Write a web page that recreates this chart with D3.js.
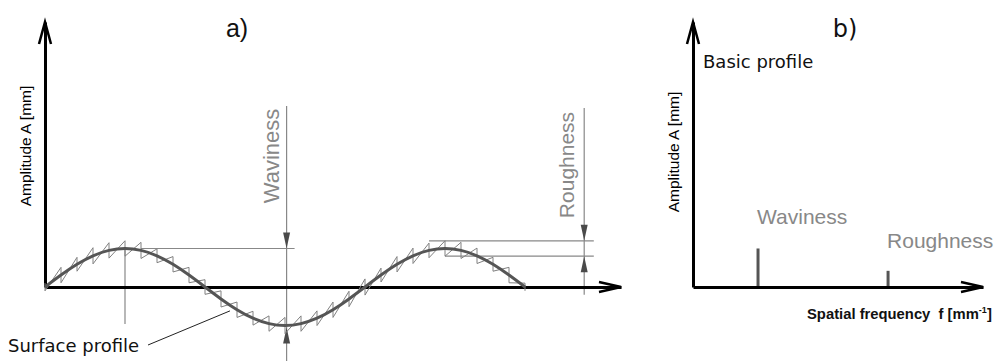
<!DOCTYPE html>
<html>
<head>
<meta charset="utf-8">
<script src="https://cdn.jsdelivr.net/npm/d3@7"></script>
<style>
  body { margin: 0; background: #fff; }
  svg { display: block; }
</style>
</head>
<body>
<div id="wrapper"></div>
<script>
// a) surface profile, sampled every 0.05 along the profile (one wave = 1.0)
const profileX = [0, 0.05, 0.1, 0.15, 0.2, 0.25, 0.3, 0.35, 0.4, 0.45, 0.5,
  0.55, 0.6, 0.65, 0.7, 0.75, 0.8, 0.85, 0.9, 0.95, 1.0,
  1.05, 1.1, 1.15, 1.2, 1.25, 1.3, 1.35, 1.4, 1.45, 1.5]
const waviness = [0, 0.31, 0.59, 0.81, 0.95, 1, 0.95, 0.81, 0.59, 0.31, 0,
  -0.31, -0.59, -0.81, -0.95, -1, -0.95, -0.81, -0.59, -0.31, 0,
  0.31, 0.59, 0.81, 0.95, 1, 0.95, 0.81, 0.59, 0.31, 0]
const roughness = [0.1, 0.2, 0.18, 0.21, 0.2, 0.2, 0.21, 0.18, 0.2, 0.2, 0.19,
  0.21, 0.2, 0.18, 0.2, 0.21, 0.2, 0.19, 0.2, 0.2, 0.21,
  0.18, 0.2, 0.2, 0.19, 0.2, 0.21, 0.2, 0.18, 0.2, 0.1]

// b) spectrum
const spectrumLabels = ["Waviness", "Roughness"]
const spectrumFreq = [1, 3]
const spectrumAmp = [1, 0.42]

const width = 995
const height = 361

const svg = d3.select("#wrapper")
  .append("svg")
  .attr("width", width)
  .attr("height", height)
  .style("font-family", "'Liberation Sans', Arial, sans-serif")

svg.append("rect").attr("width", width).attr("height", height).attr("fill", "#fff")

// scales
const xA = d3.scaleLinear().domain([0, 1.8]).range([45, 621])
const yA = d3.scaleLinear().domain([0, 6.88]).range([287, 22])
const xB = d3.scaleLinear().domain([0, 4.46]).range([693, 983])

const grey = "#888"
const dark = "#4a4a4a"

// ---------- panel a ----------
const panelA = svg.append("g")

// annotation lines (behind the profile)
const wavX = 0.755
const rouX = 1.685

panelA.append("line") // drop from the crest
  .attr("x1", xA(0.25)).attr("x2", xA(0.25))
  .attr("y1", yA(1)).attr("y2", yA(-0.96))
  .attr("stroke", grey).attr("stroke-width", 1.2)
panelA.append("line")
  .attr("x1", xA(0.3)).attr("x2", xA(0.78))
  .attr("y1", yA(1)).attr("y2", yA(1))
  .attr("stroke", grey).attr("stroke-width", 1.2)
panelA.append("line")
  .attr("x1", xA(wavX)).attr("x2", xA(wavX))
  .attr("y1", yA(4.7)).attr("y2", height)
  .attr("stroke", grey).attr("stroke-width", 1.2)

panelA.append("line")
  .attr("x1", xA(1.2)).attr("x2", xA(1.715))
  .attr("y1", yA(1.2)).attr("y2", yA(1.2))
  .attr("stroke", grey).attr("stroke-width", 1.2)
panelA.append("line")
  .attr("x1", xA(1.25)).attr("x2", xA(1.715))
  .attr("y1", yA(0.8)).attr("y2", yA(0.8))
  .attr("stroke", grey).attr("stroke-width", 1.2)
panelA.append("line")
  .attr("x1", xA(rouX)).attr("x2", xA(rouX))
  .attr("y1", yA(4.65)).attr("y2", yA(-0.2))
  .attr("stroke", grey).attr("stroke-width", 1.2)

// filled arrowheads
function arrowHead(g, x, y, dir) {
  const len = 16, half = 3.5
  g.append("path")
    .attr("d", `M${x},${y} L${x - half},${y - dir * len} L${x + half},${y - dir * len} Z`)
    .attr("fill", dark)
}
arrowHead(panelA, xA(wavX), yA(1), 1)
arrowHead(panelA, xA(wavX), yA(-1) + 2, -1)
arrowHead(panelA, xA(rouX), yA(1.2), 1)
arrowHead(panelA, xA(rouX), yA(0.8), -1)

// axes
const xAxisA = panelA.append("g")
  .attr("transform", `translate(0,${yA(0)})`)
  .call(d3.axisBottom(xA).tickValues([]).tickSizeOuter(0))
const yAxisA = panelA.append("g")
  .attr("transform", `translate(${xA(0)},0)`)
  .call(d3.axisLeft(yA).tickValues([]).tickSizeOuter(0))

// roughness zig-zag around the waviness
let roughPath = ""
profileX.forEach((x, i) => {
  const px = xA(x)
  roughPath += (i === 0 ? "M" : "L") + px + "," + yA(waviness[i] + roughness[i])
  roughPath += "L" + px + "," + yA(waviness[i] - roughness[i])
})
panelA.append("path")
  .attr("d", roughPath)
  .attr("fill", "none")
  .attr("stroke", "#808080")
  .attr("stroke-width", 1)

const wavLine = d3.line()
  .x((d, i) => xA(profileX[i]))
  .y(d => yA(d))
  .curve(d3.curveNatural)

panelA.append("path")
  .attr("d", wavLine(waviness))
  .attr("fill", "none")
  .attr("stroke", "#555")
  .attr("stroke-width", 3)

// leader to the profile
panelA.append("line")
  .attr("x1", 148).attr("y1", 345)
  .attr("x2", xA(0.578)).attr("y2", yA(-0.62))
  .attr("stroke", "#222").attr("stroke-width", 1)

panelA.append("text")
  .attr("x", 8).attr("y", 352)
  .attr("font-family", "'DejaVu Sans', sans-serif")
  .attr("font-size", 18)
  .attr("fill", "#111")
  .text("Surface profile")

panelA.append("text")
  .attr("transform", `translate(279,156) rotate(-90)`)
  .attr("text-anchor", "middle")
  .attr("font-size", 22)
  .attr("fill", grey)
  .text("Waviness")
panelA.append("text")
  .attr("transform", `translate(574,165) rotate(-90)`)
  .attr("text-anchor", "middle")
  .attr("font-size", 21)
  .attr("fill", grey)
  .text("Roughness")

panelA.append("text")
  .attr("transform", `translate(31,146) rotate(-90)`)
  .attr("text-anchor", "middle")
  .attr("font-size", 15.5)
  .attr("fill", "#000")
  .text("Amplitude A [mm]")

panelA.append("text")
  .attr("x", 237).attr("y", 37)
  .attr("text-anchor", "middle")
  .attr("font-family", "'Liberation Sans Narrow', 'Liberation Sans', sans-serif")
  .attr("font-size", 25)
  .attr("fill", "#111")
  .text("a)")

// ---------- panel b ----------
const panelB = svg.append("g")

panelB.selectAll(".bar")
  .data(spectrumFreq)
  .join("line")
  .attr("class", "bar")
  .attr("x1", d => xB(d)).attr("x2", d => xB(d))
  .attr("y1", yA(0)).attr("y2", (d, i) => yA(spectrumAmp[i]))
  .attr("stroke", "#555")
  .attr("stroke-width", 3)

const xAxisB = panelB.append("g")
  .attr("transform", `translate(0,${yA(0)})`)
  .call(d3.axisBottom(xB).tickValues([]).tickSizeOuter(0))
const yAxisB = panelB.append("g")
  .attr("transform", `translate(${xB(0)},0)`)
  .call(d3.axisLeft(yA).tickValues([]).tickSizeOuter(0))

panelB.selectAll(".lbl")
  .data(spectrumLabels)
  .join("text")
  .attr("class", "lbl")
  .attr("x", (d, i) => xB(spectrumFreq[i]) - 1)
  .attr("y", (d, i) => [224, 248][i])
  .attr("font-size", 21)
  .attr("fill", grey)
  .text(d => d)

panelB.append("text")
  .attr("x", 703).attr("y", 68)
  .attr("font-family", "'DejaVu Sans', sans-serif")
  .attr("font-size", 18)
  .attr("fill", "#111")
  .text("Basic profile")

panelB.append("text")
  .attr("transform", `translate(679,152) rotate(-90)`)
  .attr("text-anchor", "middle")
  .attr("font-size", 15.5)
  .attr("fill", "#000")
  .text("Amplitude A [mm]")

const fLabel = panelB.append("text")
  .attr("x", 807).attr("y", 319)
  .attr("font-size", 14.8)
  .attr("font-weight", "bold")
  .attr("fill", "#111")
  .style("white-space", "pre")
fLabel.append("tspan").text("Spatial frequency  f [mm")
fLabel.append("tspan").attr("dy", -6).attr("font-size", 9).text("-1")
fLabel.append("tspan").attr("dy", 6).text("]")

panelB.append("text")
  .attr("x", 845).attr("y", 37)
  .attr("text-anchor", "middle")
  .attr("font-family", "'DejaVu Sans', sans-serif")
  .attr("font-size", 24)
  .attr("fill", "#111")
  .text("b)")

// axis styling and open arrow tips
svg.selectAll(".domain")
  .attr("stroke", "#000")
  .attr("stroke-width", 3)

function tips(g, x0, x1, y0, y1) {
  g.append("path")
    .attr("d", `M${x1 - 22},${y0 - 5} L${x1},${y0} L${x1 - 22},${y0 + 5}`)
    .attr("fill", "none").attr("stroke", "#000").attr("stroke-width", 2.5)
  g.append("path")
    .attr("d", `M${x0 - 6},${y1 + 22} L${x0},${y1} L${x0 + 6},${y1 + 22}`)
    .attr("fill", "none").attr("stroke", "#000").attr("stroke-width", 2.5)
}
tips(panelA, xA(0), xA(1.8), yA(0), yA(6.88))
tips(panelB, xB(0), xB(4.46), yA(0), yA(6.88))
</script>
</body>
</html>
